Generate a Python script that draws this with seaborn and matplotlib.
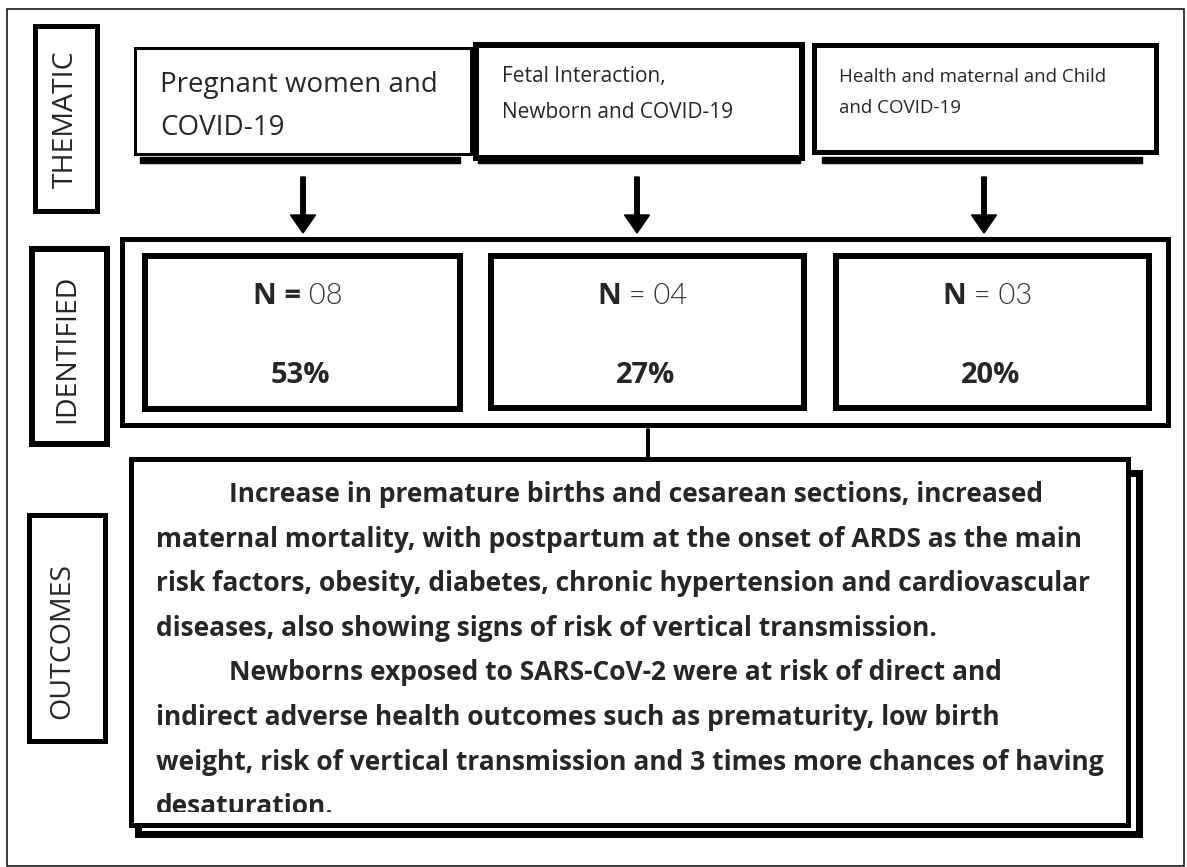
import numpy as np
import seaborn as sns
import matplotlib.pyplot as plt
from matplotlib.patches import Rectangle

# ---- content ----
stage_labels = ['THEMATIC', 'IDENTIFIED', 'OUTCOMES']
themes = [['Pregnant women and', 'COVID-19'],
          ['Fetal Interaction,', 'Newborn and COVID-19'],
          ['Health and maternal and Child', 'and COVID-19']]
n_studies = ['08', '04', '03']
bold_equals = [True, False, False]
percents = [53, 27, 20]
outcome_par1 = ['Increase in premature births and cesarean sections, increased',
                'maternal mortality, with postpartum at the onset of ARDS as the main',
                'risk factors, obesity, diabetes, chronic hypertension and cardiovascular',
                'diseases, also showing signs of risk of vertical transmission.']
outcome_par2 = ['Newborns exposed to SARS-CoV-2 were at risk of direct and',
                'indirect adverse health outcomes such as prematurity, low birth',
                'weight, risk of vertical transmission and 3 times more chances of having',
                'desaturation.']

sns.set_theme(style='white')
plt.rcParams['font.family'] = ['Open Sans', 'DejaVu Sans']

W, H = 1187, 867
fig = plt.figure(figsize=(W / 100, H / 100), dpi=100)
ax = fig.add_axes([0, 0, 1, 1])
ax.set_xlim(0, W)
ax.set_ylim(H, 0)
ax.axis('off')

PT = 0.72  # px -> pt at dpi 100


def box(x0, y0, x1, y1, lw, z=2, fc='white'):
    r = Rectangle((x0, y0), x1 - x0, y1 - y0, fill=True, fc=fc, ec='black',
                  lw=lw * PT, zorder=z, joinstyle='miter')
    ax.add_patch(r)
    return r


# outer frame
box(7, 9, 1184, 866, 1.5, z=0)

# stage label boxes
label_boxes = [(35, 26, 97, 211, 5), (32, 249, 107, 444, 6), (29, 515, 105, 741, 5)]
label_centers = [(66, 119), (67, 349), (62, 641)]
for lab, (x0, y0, x1, y1, lw), (cx, cy) in zip(stage_labels, label_boxes, label_centers):
    box(x0, y0, x1, y1, lw)
    ax.text(cx, cy, lab, rotation=90, ha='center', va='center', fontsize=20.5, zorder=5)

# thematic boxes
theme_boxes = [(135, 48, 471, 154, 3), (476, 45, 802, 158, 6), (814, 45, 1156, 152, 5)]
theme_shadow = [(140, 157, 460, 163), (478, 155, 800, 163), (822, 157, 1142, 163)]
theme_text = [(160, 92, 43, 20), (502, 82, 36, 15), (839, 82, 31, 13.5)]
for lines, (x0, y0, x1, y1, lw), (sx0, sy0, sx1, sy1), (tx, ty, dy, fs) in zip(
        themes, theme_boxes, theme_shadow, theme_text):
    ax.add_patch(Rectangle((sx0, sy0), sx1 - sx0, sy1 - sy0, color='black', zorder=1))
    box(x0, y0, x1, y1, lw)
    for i, line in enumerate(lines):
        ax.text(tx, ty + i * dy, line, ha='left', va='baseline', fontsize=fs, zorder=5)

# arrows thematic -> identified
for ax_x in [303, 637, 984]:
    ax.arrow(ax_x, 177, 0, 56, width=4.5, head_width=25, head_length=18,
             length_includes_head=True, color='black', zorder=3)

# identified outer and inner boxes
box(122, 239, 1168, 425, 5)
inner = [(145, 256, 460, 409), (491, 256, 804, 408), (836, 256, 1149, 408)]
n_texts = []
for (x0, y0, x1, y1), n, beq, pct in zip(inner, n_studies, bold_equals, percents):
    box(x0, y0, x1, y1, 6, z=3)
    cx = (x0 + x1) / 2
    bold_part = 'N =' if beq else 'N'
    light_part = (' ' + n) if beq else (' = ' + n)
    t1 = ax.text(cx, 304, bold_part, ha='left', va='baseline', fontsize=21,
                 fontweight='bold', zorder=5)
    t2 = ax.text(cx, 304, light_part, ha='left', va='baseline', fontsize=21,
                 fontweight=300, color='#333333', family=['Lato', 'DejaVu Sans'],
                 zorder=5)
    n_texts.append((cx, t1, t2))
    ax.text(cx - 2, 383, f'{pct}%', ha='center', va='baseline', fontsize=21,
            fontweight='bold', zorder=5)

fig.canvas.draw()
rend = fig.canvas.get_renderer()
for cx, t1, t2 in n_texts:
    w1 = t1.get_window_extent(rend).width
    w2 = t2.get_window_extent(rend).width
    x0 = cx - 5 - (w1 + w2) / 2
    t1.set_x(x0)
    t2.set_x(x0 + w1)

# connector identified -> outcomes
ax.plot([648, 648], [430, 458], color='black', lw=4 * PT, zorder=1)

# outcomes box with offset shadow
box(138, 473, 1139, 834, 7, z=1)
out_box = box(131, 459, 1128, 825, 5, z=3)
clip = Rectangle((131, 459), 997, 353, transform=ax.transData, visible=False)
ax.add_patch(clip)

y = 502
for par in [outcome_par1, outcome_par2]:
    for i, line in enumerate(par):
        x = 229 if i == 0 else 156
        t = ax.text(x, y, line, ha='left', va='baseline', fontsize=19,
                    fontweight='bold', clip_on=True, zorder=5)
        t.set_clip_path(clip)
        y += 44.6

fig.savefig('out.png', dpi=100)
